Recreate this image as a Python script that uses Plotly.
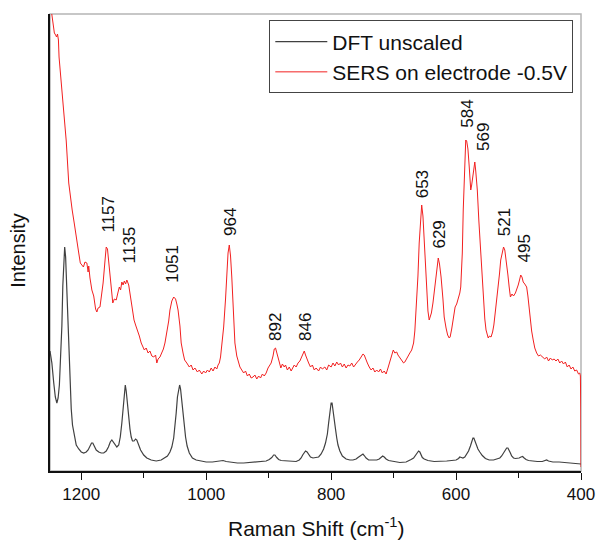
import plotly.graph_objects as go

# ---- SERS spectrum (red) ----
sers_shift = [1250, 1247, 1245, 1243, 1241, 1239.5, 1238, 1236.5, 1235.5, 1232, 1228, 1224, 1220, 1217, 1214.5,
              1211, 1207, 1204, 1201.5, 1199, 1196.5, 1194, 1191, 1189, 1188, 1186, 1183, 1180, 1177, 1175,
              1173, 1170, 1167.5, 1165, 1162, 1160, 1158, 1156, 1154.5, 1152, 1149.5, 1147, 1144, 1141, 1139,
              1137, 1135, 1133, 1131, 1129, 1127, 1124, 1121, 1118, 1115.5, 1113, 1110, 1107, 1104, 1101,
              1099, 1096, 1093, 1090, 1087, 1084, 1081, 1079, 1077, 1074, 1071, 1068.5, 1066, 1063, 1060,
              1058, 1055, 1052, 1049, 1047, 1045, 1042, 1040, 1037, 1034.5, 1031, 1027, 1024, 1021, 1018,
              1014, 1011, 1007, 1004, 1001, 998, 995, 992, 989, 986, 983, 981, 979, 977, 975,
              972, 969, 967, 965, 963, 961, 959, 957, 955.5, 954, 951, 948.5, 946, 943, 940,
              937, 934, 931, 928, 925, 922, 919, 916, 913, 910, 907, 904, 901, 898, 896,
              893, 891, 889, 887, 885.5, 883, 880.5, 878, 875, 873, 870, 867, 864, 862, 859,
              856, 853, 850, 847, 845, 843, 841, 839, 836, 833, 830, 827, 824, 820, 817,
              814, 810, 807, 804, 800, 797, 794, 791, 788, 785, 782, 779, 776, 773, 770,
              767, 764, 761, 758, 755, 752, 749, 747, 745, 742, 739, 736, 733, 730, 727,
              724, 721, 718, 715, 712, 709, 706, 703, 700.5, 698, 695, 693, 690, 687, 684,
              682, 679, 676, 674, 671, 668, 666, 664, 661, 659, 657, 655, 653, 651, 649,
              647, 645, 643, 641, 639.5, 637, 634.5, 632, 630, 628.5, 626.5, 624, 621, 619, 616,
              613.5, 611, 609.5, 607, 605, 603, 601.5, 599, 596, 594, 592.5, 590, 588.5, 586.5, 584.5,
              583, 581, 579, 577.5, 576.5, 575, 573, 571, 570, 568.5, 566, 563.5, 561, 559, 556.5,
              554, 552, 550, 548.5, 546.5, 544, 541.5, 539.5, 537, 535, 533, 530.5, 528.5, 526, 524,
              522, 520.5, 519, 517, 515, 513, 510.5, 508, 505, 503, 501.5, 500.5, 498, 496.5, 494.5,
              492.5, 490, 487, 485, 483, 481.5, 479, 476.5, 474, 471, 468, 465, 461, 458, 455,
              452, 449, 446, 443, 440, 437, 434, 431, 428, 425, 422, 419, 416, 413, 410,
              407, 404, 402, 401, 400.3, 400]
sers_int = [470, 456, 445, 438, 436, 434, 437, 431, 414, 390, 361, 330, 288, 272, 261,
            247, 228, 218, 208, 206, 204, 209, 208, 199, 205, 193, 181, 175, 162, 159,
            163, 164, 176, 188, 210, 224, 222, 210, 198, 182, 168, 172, 171, 179, 184,
            181, 189, 186, 190, 187, 191, 186, 174, 162, 151, 146, 141, 135, 128, 124,
            121, 123, 118, 120, 115, 114, 116, 108, 112, 114, 118, 122, 128, 138, 150,
            161, 170, 174, 172, 167, 161, 145, 128, 118, 111, 108, 104, 106, 101, 103,
            99, 101, 97, 100, 98, 101, 99, 103, 100, 104, 102, 106, 108, 114, 124,
            144, 172, 201, 218, 226, 215, 194, 170, 146, 128, 115, 108, 104, 101, 98,
            100, 95, 97, 93, 94, 96, 92, 95, 93, 97, 95, 98, 103, 106, 108,
            115, 122, 123, 119, 114, 109, 103, 107, 104, 106, 101, 104, 100, 103, 106,
            104, 108, 110, 114, 118, 120, 116, 112, 108, 104, 106, 101, 103, 100, 104,
            102, 104, 101, 106, 104, 108, 105, 109, 106, 108, 104, 107, 103, 106, 105,
            108, 104, 107, 109, 111, 114, 117, 116, 112, 108, 104, 101, 103, 99, 101,
            99, 102, 98, 100, 97, 103, 110, 117, 121, 118, 119, 116, 113, 111, 108,
            109, 113, 116, 118, 121, 128, 140, 161, 195, 228, 252, 266, 255, 228, 200,
            174, 160, 151, 156, 158, 168, 181, 195, 208, 213, 207, 194, 172, 154, 143,
            136, 133, 134, 142, 151, 159, 164, 167, 173, 178, 184, 218, 261, 300, 331,
            330, 322, 305, 288, 281, 286, 298, 306, 309, 300, 281, 250, 221, 197, 171,
            152, 141, 136, 133, 135, 134, 139, 146, 160, 170, 181, 197, 211, 220, 224,
            221, 214, 211, 196, 184, 174, 177, 175, 178, 181, 183, 186, 192, 196, 194,
            189, 187, 184, 175, 164, 151, 140, 131, 123, 118, 115, 116, 114, 112, 114,
            110, 113, 111, 112, 110, 112, 108, 110, 107, 109, 104, 106, 102, 104, 100,
            101, 97, 98, 95, 60, 4]

# ---- DFT spectrum (black) ----
dft_shift = [1250, 1247, 1244, 1241.5, 1239, 1237, 1235, 1233, 1231, 1229.5, 1228, 1226.5, 1225, 1223.5, 1222,
             1220, 1218, 1216, 1214, 1211, 1208, 1204, 1200, 1196, 1192, 1189, 1186, 1183.5, 1181.5, 1179,
             1176, 1172, 1168, 1164, 1160, 1156.5, 1153.5, 1151, 1148.5, 1146, 1143, 1140, 1137.5, 1135, 1133,
             1131, 1129.5, 1128, 1126, 1124, 1122, 1120, 1118, 1115.5, 1113, 1111, 1108.5, 1105, 1100, 1095,
             1088, 1080, 1072, 1066, 1062, 1058, 1055, 1052, 1050, 1048, 1046, 1044, 1042.5, 1041, 1039,
             1037, 1035, 1033, 1030.5, 1027, 1022, 1016, 1008, 1000, 990, 980, 973, 968, 960, 950,
             940, 930, 920, 910, 904, 899, 895, 892, 890, 887, 884, 880, 872, 862, 856,
             851, 848, 845.5, 843, 841, 838.5, 836, 833, 829, 825, 820, 816, 812, 809, 806,
             804, 802, 800, 798.5, 797, 795, 793, 791, 789, 786, 782, 776, 770, 765, 760,
             757, 754, 751, 749, 747, 744, 740, 733, 727, 723, 720, 717.5, 715, 712, 708,
             700, 690, 680, 676, 672, 668, 665, 662, 660, 658, 656, 654, 651, 645, 635,
             625, 615, 607, 600, 596, 594, 591.5, 589, 586, 583, 580, 577, 575, 573, 571.5,
             570, 568, 565, 562, 558, 553, 547, 540, 535, 530, 527, 524, 521, 519, 517,
             515, 513, 511, 508, 505, 502, 499, 496, 493.5, 491, 488, 484, 478, 470, 462,
             458, 455, 452, 445, 435, 425, 415, 405, 400]
dft_int = [120, 108, 88, 74, 68, 73, 86, 110, 145, 185, 212, 224, 214, 190, 158,
           118, 88, 62, 46, 34, 26, 22, 19, 18, 19, 21, 25, 28, 28, 25,
           21, 19, 18, 18, 20, 24, 29, 31, 29, 26, 24, 26, 34, 48, 64,
           80, 86, 80, 66, 54, 42, 34, 30, 30, 32, 31, 26, 21, 16, 13,
           11, 10, 11, 13, 15, 19, 24, 33, 44, 58, 74, 84, 86, 82, 70,
           58, 44, 34, 25, 18, 13, 11, 10, 9, 9, 9.5, 10.5, 9.5, 8.5, 8,
           8, 8.5, 8.5, 9, 10, 11.5, 13.5, 16, 16, 13.5, 11.5, 10.5, 10, 9.5, 9.5,
           11, 13, 16, 19, 20, 19, 16, 14, 13, 13.5, 14, 17, 22, 28, 37,
           48, 60, 68, 68, 62, 52, 42, 33, 26, 20, 15, 12, 11, 11, 12,
           13.5, 15, 16.5, 17, 15.5, 13, 11, 11, 11, 12, 13.5, 15, 14, 12, 10.5,
           9.5, 8.5, 9, 10, 11.5, 13, 15.5, 18, 20, 19, 16, 13.5, 12, 10.5, 9.5,
           9.5, 10, 10.5, 11, 12.5, 14, 13.5, 13, 14, 17, 20, 25, 30, 33, 33,
           30, 26, 22, 19, 15.5, 12.5, 11, 11, 12, 13, 15, 18, 21, 23, 23,
           21, 18, 15, 13, 12.5, 12.5, 13, 14, 14.5, 13, 11.5, 10.5, 10, 9.5, 9.5,
           10.5, 11, 10, 9, 9, 8.5, 8, 7.5, 7]

# ---- peak labels ----
peak_text = ["1157", "1135", "1051", "964", "892", "846", "653", "629", "584", "569", "521", "495"]
peak_label_x = [1157, 1122, 1055, 962, 890, 842, 654, 628, 583, 557, 523, 492]
peak_label_y = [236, 206, 186, 233, 128, 128, 271, 220, 341, 318, 233, 206]

x_ticks = [1200, 1000, 800, 600, 400]
x_minor = [1100, 900, 700, 500]

FONT = "Arial, 'Liberation Sans', Helvetica, sans-serif"

fig = go.Figure()
fig.add_trace(go.Scatter(x=dft_shift, y=dft_int, mode="lines", name="DFT unscaled",
                         line=dict(color="#404040", width=1.2)))
fig.add_trace(go.Scatter(x=sers_shift, y=sers_int, mode="lines", name="SERS on electrode -0.5V",
                         line=dict(color="#f22020", width=1.0)))

for t, px, py in zip(peak_text, peak_label_x, peak_label_y):
    fig.add_annotation(x=px, y=py, xref="x", yref="y", text=t, showarrow=False,
                       textangle=-90, xanchor="center", yanchor="bottom",
                       font=dict(family=FONT, size=17, color="#111"))

fig.add_annotation(x=-0.059, y=0.481, xref="paper", yref="paper", text="Intensity",
                   showarrow=False, textangle=-90, xanchor="center", yanchor="middle",
                   font=dict(family=FONT, size=20, color="#111"))
fig.add_annotation(x=0.5, y=-0.1225, xref="paper", yref="paper",
                   text="Raman Shift (cm<sup>-1</sup>)", showarrow=False,
                   xanchor="center", yanchor="middle",
                   font=dict(family=FONT, size=21, color="#111"))

fig.add_shape(type="rect", xref="paper", yref="paper", x0=0, x1=1, y0=0, y1=1,
              line=dict(color="#b5b5b5", width=1.5), layer="below")

fig.update_layout(
    width=607, height=540,
    margin=dict(l=50, r=15, t=14, b=69),
    paper_bgcolor="white", plot_bgcolor="white",
    font=dict(family=FONT, color="#111"),
    showlegend=True,
    legend=dict(x=0.413, y=0.986, xanchor="left", yanchor="top",
                bordercolor="#444", borderwidth=1, bgcolor="white",
                font=dict(family=FONT, size=21, color="#111"),
                itemwidth=52, tracegroupgap=0),
    xaxis=dict(range=[1250, 400], tickvals=x_ticks, ticks="outside", ticklen=7,
               tickwidth=1.3, tickcolor="#111", showline=True, linecolor="#111",
               linewidth=1.6, showgrid=False, zeroline=False,
               tickfont=dict(family=FONT, size=17, color="#111"),
               minor=dict(tickvals=x_minor, ticks="outside", ticklen=5,
                          tickwidth=1.3, tickcolor="#111", showgrid=False)),
    yaxis=dict(range=[0, 457], showticklabels=False, ticks="", showline=True,
               linecolor="#111", linewidth=1.6, showgrid=False, zeroline=False),
)

fig.write_html("out.html")
